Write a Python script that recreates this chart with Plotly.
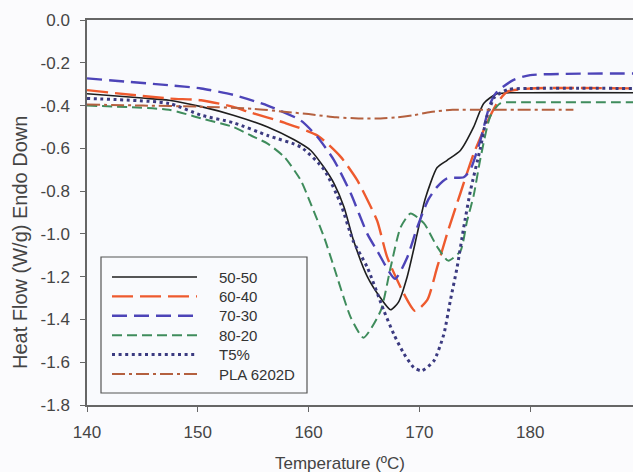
import plotly.graph_objects as go

# ---------------- data ----------------
names = ["50-50", "60-40", "70-30", "80-20", "T5%", "PLA 6202D"]

t_5050 = [140, 145, 147.4, 150.3, 153.2, 156.3, 158.7, 160.2, 161.4, 162.3, 163.2, 164.05, 165.3, 166.5, 167.4,
          168.1, 168.9, 169.8, 170.5, 171.6, 172.5, 173.7, 174.9, 175.8, 177, 180, 189.3]
v_5050 = [-0.345, -0.365, -0.375, -0.405, -0.445, -0.50, -0.56, -0.61, -0.69, -0.765, -0.875, -1.03, -1.20, -1.30,
          -1.355, -1.32, -1.20, -1.0, -0.84, -0.69, -0.656, -0.61, -0.50, -0.39, -0.345, -0.34, -0.34]

t_6040 = [140, 147.4, 150.3, 153.2, 154.6, 157.8, 160.8, 162.9, 164.4, 165.3, 166.2, 167.1, 168.6, 169.6, 170.7,
          171.6, 172.5, 173.7, 174.9, 176.1, 177, 177.9, 180, 189.3]
v_6040 = [-0.328, -0.367, -0.375, -0.406, -0.43, -0.48, -0.54, -0.64, -0.75, -0.84, -0.94, -1.11, -1.28, -1.36,
          -1.31, -1.157, -1.0, -0.81, -0.625, -0.48, -0.39, -0.336, -0.32, -0.32]

t_7030 = [140, 147.4, 150.3, 153.2, 156.3, 159.3, 160.8, 162.3, 163.8, 165.3, 166.2, 167.8, 168.9, 169.8, 170.8,
          171.6, 172.5, 174, 174.6, 175.5, 176.4, 177, 178.5, 180, 189.3]
v_7030 = [-0.273, -0.305, -0.32, -0.35, -0.40, -0.47, -0.547, -0.656, -0.81, -1.0, -1.08, -1.21, -1.11, -0.97,
          -0.84, -0.78, -0.74, -0.735, -0.70, -0.5625, -0.39, -0.336, -0.28, -0.258, -0.25]

t_8020 = [140, 147.4, 150.3, 153.2, 154.8, 156.3, 157.8, 159.3, 160.2, 161.4, 162.3, 163.8, 164.95, 166.5, 167.4,
          168.3, 169.2, 170.4, 171.6, 172.6, 173.7, 174.3, 174.9, 175.5, 176.4, 177.3, 180, 189.3]
v_8020 = [-0.40, -0.42, -0.46, -0.50, -0.54, -0.578, -0.64, -0.75, -0.86, -1.016, -1.157, -1.39, -1.485, -1.36,
          -1.157, -0.97, -0.905, -0.95, -1.06, -1.125, -1.08, -0.94, -0.82, -0.65, -0.45, -0.39, -0.385, -0.385]

t_t5 = [140, 147.4, 150.3, 153.2, 156.3, 159.3, 161.4, 162.9, 164, 165.3, 166.8, 167.7, 168.6, 169.5, 170.2,
        171.3, 172.2, 172.8, 173.4, 174, 174.6, 175.5, 176.1, 176.8, 178, 180, 189.3]
v_t5 = [-0.367, -0.39, -0.445, -0.48, -0.54, -0.594, -0.70, -0.86, -1.03, -1.157, -1.36, -1.47, -1.56, -1.625,
        -1.64, -1.594, -1.47, -1.31, -1.157, -0.97, -0.80, -0.60, -0.45, -0.36, -0.325, -0.32, -0.32]

t_pla = [140, 145, 150, 155, 158, 160, 162.5, 164.5, 166.5, 168, 169.5, 171, 173, 176, 183.9]
v_pla = [-0.395, -0.40, -0.405, -0.415, -0.43, -0.44, -0.455, -0.46, -0.46, -0.455, -0.445, -0.43, -0.42, -0.42,
         -0.42]

x_ticks = [140, 150, 160, 170, 180]
y_ticks = [0.0, -0.2, -0.4, -0.6, -0.8, -1.0, -1.2, -1.4, -1.6, -1.8]
y_tick_labels = ["0.0", "-0.2", "-0.4", "-0.6", "-0.8", "-1.0", "-1.2", "-1.4", "-1.6", "-1.8"]

x_title = "Temperature (ºC)"
y_title = "Heat Flow (W/g) Endo Down"

# ---------------- styles ----------------
colors = ["#1e1e1e", "#ee5a2e", "#4d44b8", "#3f8c5c", "#3b3a80", "#b4603f"]
widths = [1.6, 2.4, 2.4, 2.0, 3.0, 2.0]
dashes = ["solid", "21px,7px", "15px,7px", "10px,5px", "3px,3.6px", "13px,4px,3px,4px"]

series_t = [t_5050, t_6040, t_7030, t_8020, t_t5, t_pla]
series_v = [v_5050, v_6040, v_7030, v_8020, v_t5, v_pla]

FONT = "Liberation Sans, Arial, sans-serif"
W, H = 633, 472
ML, MR, MT, MB = 87, 0, 20, 67
PW, PH = W - ML - MR, H - MT - MB

fig = go.Figure()
for name, t, v, c, w, d in zip(names, series_t, series_v, colors, widths, dashes):
    fig.add_trace(go.Scatter(x=t, y=v, mode="lines", name=name,
                             line=dict(color=c, width=w, dash=d, shape="spline", smoothing=0.6),
                             showlegend=False))

# pixel -> paper helpers for legend / titles placement
def px(xp):
    return (xp - ML) / PW

def py(yp):
    return (H - MB - yp) / PH

shapes = [dict(type="rect", xref="paper", yref="paper",
               x0=px(101), x1=px(307), y0=py(257), y1=py(393),
               line=dict(color="#555555", width=1.2), fillcolor="rgba(0,0,0,0)")]
annotations = []
row0, row_step = 277, 19.4
for i, (name, c, w, d) in enumerate(zip(names, colors, widths, dashes)):
    yy = row0 + i * row_step
    shapes.append(dict(type="line", xref="paper", yref="paper",
                       x0=px(112), x1=px(197), y0=py(yy), y1=py(yy),
                       line=dict(color=c, width=w, dash=d)))
    annotations.append(dict(xref="paper", yref="paper", x=px(217), y=py(yy),
                            xanchor="left", yanchor="middle", showarrow=False,
                            text=name, font=dict(size=15, color="#333333", family=FONT)))

# axis titles
annotations.append(dict(xref="paper", yref="paper", x=px(340), y=py(463),
                        xanchor="center", yanchor="middle", showarrow=False,
                        text=x_title, font=dict(size=17, color="#444444", family=FONT)))
annotations.append(dict(xref="paper", yref="paper", x=px(20), y=py(243),
                        xanchor="center", yanchor="middle", showarrow=False, textangle=-90,
                        text=y_title, font=dict(size=20, color="#444444", family=FONT)))

fig.update_layout(
    width=W, height=H,
    margin=dict(l=ML, r=MR, t=MT, b=MB),
    paper_bgcolor="#fbfbfd",
    plot_bgcolor="#f9fafd",
    font=dict(family=FONT, size=17, color="#454545"),
    shapes=shapes,
    annotations=annotations,
    showlegend=False,
)

fig.update_xaxes(range=[140, 140 + PW / 11.08], tickvals=x_ticks, ticks="outside", ticklen=5,
                 tickcolor="#666666", showline=True, linecolor="#666666", linewidth=1.5, mirror=True,
                 showgrid=False, zeroline=False, ticklabelstandoff=6,
                 tickfont=dict(size=17, color="#454545"))
fig.update_yaxes(range=[-1.8, 0.0], tickvals=y_ticks, ticktext=y_tick_labels, ticks="outside", ticklen=5,
                 tickcolor="#666666", showline=True, linecolor="#666666", linewidth=1.5,
                 showgrid=False, zeroline=False, ticklabelstandoff=7,
                 tickfont=dict(size=17, color="#454545"))

fig.write_html("out.html")
